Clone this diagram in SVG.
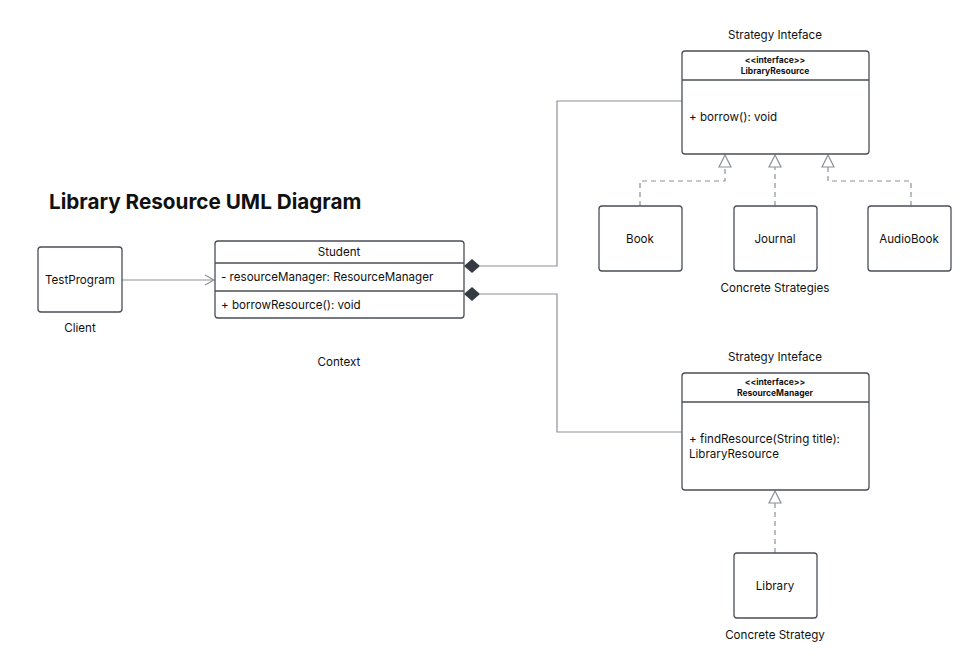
<svg xmlns="http://www.w3.org/2000/svg" width="972" height="669" viewBox="0 0 972 669">
<style>
text{font-family:Inter,"Liberation Sans",sans-serif;fill:#111;font-size:11.6px}
.box{fill:#fff;stroke:#4a4f57;stroke-width:1.3}
.sep{stroke:#4a4f57;stroke-width:1.3}
.c{text-anchor:middle}
.hdr{font-size:8.5px;font-weight:bold;text-anchor:middle}
.ln{fill:none;stroke:#8c9097;stroke-width:1.2}
.dash{fill:none;stroke:#8c9097;stroke-width:1.2;stroke-dasharray:5 4}
.tri{fill:#fff;stroke:#8c9097;stroke-width:1.2}
.dia{fill:#363b43}
</style>
<rect width="972" height="669" fill="#fff"/>
<text x="49" y="209" style="font-size:20.7px;font-weight:bold">Library Resource UML Diagram</text>
<g id="connectors">
<path class="ln" d="M480 266 H557 V101 H682"/>
<path class="ln" d="M480 294 H557 V432 H682"/>
<path class="dia" d="M464 266 L472 259 L480 266 L472 273 Z"/>
<path class="dia" d="M464 294 L472 287 L480 294 L472 301 Z"/>
<path class="ln" d="M122 280 H214"/>
<path class="ln" d="M205 275 L214 280 L205 285"/>
<path class="dash" d="M640 206 V181 H725 V167"/>
<path class="dash" d="M775 206 V167"/>
<path class="dash" d="M911 206 V181 H828 V167"/>
<path class="dash" d="M775 553 V503"/>
<path class="tri" d="M725 155 L731 167 L719 167 Z"/>
<path class="tri" d="M775 155 L781 167 L769 167 Z"/>
<path class="tri" d="M828 155 L834 167 L822 167 Z"/>
<path class="tri" d="M775 491 L781 503 L769 503 Z"/>
</g>
<g id="TestProgram">
<rect class="box" x="38" y="247" width="84" height="65" rx="3"/>
<text class="c" x="80" y="284">TestProgram</text>
<text class="c" x="80" y="332">Client</text>
</g>
<g id="Student">
<rect class="box" x="215" y="241" width="249" height="77" rx="3"/>
<line class="sep" x1="215" y1="263" x2="464" y2="263"/>
<line class="sep" x1="215" y1="291" x2="464" y2="291"/>
<text class="c" x="339" y="256">Student</text>
<text x="221" y="281">- resourceManager: ResourceManager</text>
<text x="221" y="309">+ borrowResource(): void</text>
<text class="c" x="339" y="366">Context</text>
</g>
<g id="LibraryResource">
<text class="c" x="775" y="39">Strategy Inteface</text>
<rect class="box" x="682" y="51" width="187" height="103" rx="3"/>
<line class="sep" x1="682" y1="80" x2="869" y2="80"/>
<text class="hdr" x="775" y="63">&lt;&lt;interface&gt;&gt;</text>
<text class="hdr" x="775" y="74">LibraryResource</text>
<text x="689" y="121">+ borrow(): void</text>
</g>
<g id="Book">
<rect class="box" x="599" y="206" width="83" height="65" rx="3"/>
<text class="c" x="640" y="243">Book</text>
</g>
<g id="Journal">
<rect class="box" x="734" y="206" width="83" height="65" rx="3"/>
<text class="c" x="775" y="243">Journal</text>
<text class="c" x="775" y="292">Concrete Strategies</text>
</g>
<g id="AudioBook">
<rect class="box" x="868" y="206" width="83" height="65" rx="3"/>
<text class="c" x="909" y="243">AudioBook</text>
</g>
<g id="ResourceManager">
<text class="c" x="775" y="361">Strategy Inteface</text>
<rect class="box" x="682" y="373" width="187" height="117" rx="3"/>
<line class="sep" x1="682" y1="402" x2="869" y2="402"/>
<text class="hdr" x="775" y="385">&lt;&lt;interface&gt;&gt;</text>
<text class="hdr" x="775" y="396">ResourceManager</text>
<text x="689" y="443">+ findResource(String title):</text>
<text x="689" y="458">LibraryResource</text>
</g>
<g id="Library">
<rect class="box" x="734" y="553" width="83" height="65" rx="3"/>
<text class="c" x="775" y="590">Library</text>
<text class="c" x="775" y="639">Concrete Strategy</text>
</g>
</svg>
